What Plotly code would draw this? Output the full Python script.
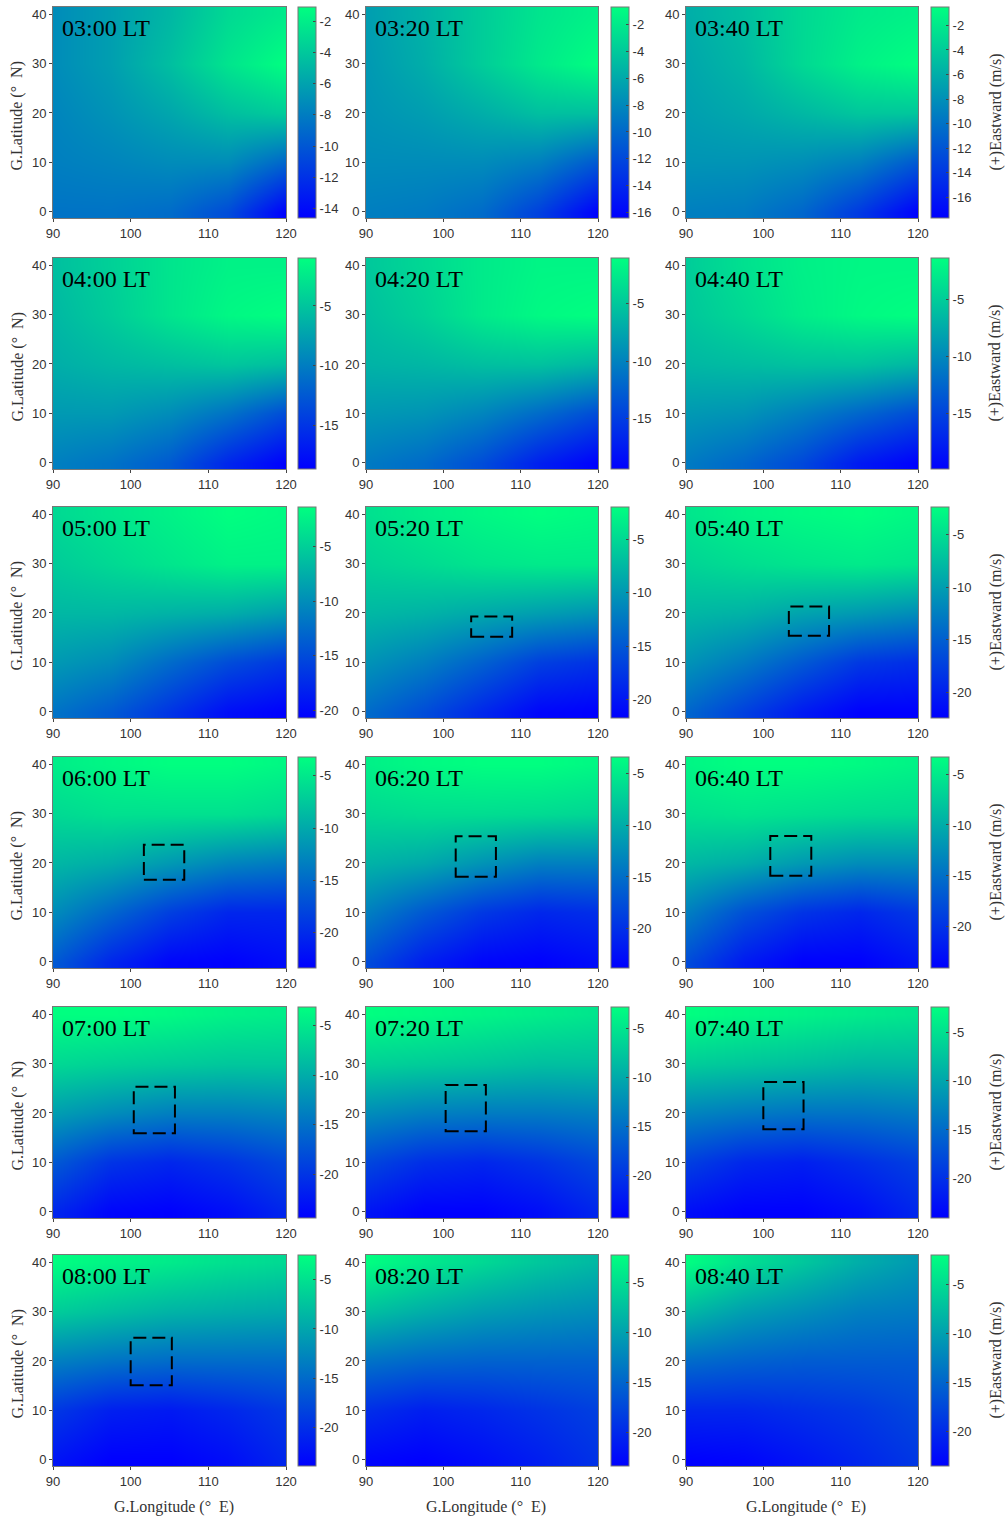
import plotly.graph_objects as go

# Grid of the zonal wind field (rows: latitude, columns: longitude)
LON = [90, 97.5, 105, 112.5, 120]
LAT = [0, 10, 20, 30, 40]

LOCAL_TIMES = ["03:00 LT", "03:20 LT", "03:40 LT",
               "04:00 LT", "04:20 LT", "04:40 LT",
               "05:00 LT", "05:20 LT", "05:40 LT",
               "06:00 LT", "06:20 LT", "06:40 LT",
               "07:00 LT", "07:20 LT", "07:40 LT",
               "08:00 LT", "08:20 LT", "08:40 LT"]

# Eastward wind (m/s), one table per local time
U_0300 = [[-8.5, -8.5, -8.9, -10.6, -14.6],
          [-7.9, -7.6, -7.2, -7.2, -9.2],
          [-7.6, -6.8, -5.8, -4.5, -3.8],
          [-7.2, -6.2, -4.5, -2.5, -1.1],
          [-7.2, -6.2, -4.9, -3.1, -2.2]]
U_0320 = [[-8.6, -8.9, -9.8, -12.5, -16.4],
          [-7.8, -7.8, -7.8, -8.6, -10.9],
          [-7.3, -6.7, -5.7, -4.6, -4.6],
          [-7.0, -5.7, -3.8, -2.0, -0.7],
          [-6.7, -5.4, -3.8, -2.3, -1.5]]
U_0340 = [[-9.1, -9.4, -10.8, -13.9, -17.7],
          [-7.7, -7.7, -8.1, -9.1, -11.7],
          [-7.0, -6.3, -5.3, -4.3, -4.3],
          [-6.5, -5.3, -3.1, -1.4, -0.5],
          [-6.0, -4.8, -3.1, -1.9, -1.4]]
U_0400 = [[-9.8, -10.7, -12.4, -16.0, -18.6],
          [-8.0, -8.0, -8.9, -10.7, -13.3],
          [-6.6, -5.9, -5.4, -4.9, -5.4],
          [-5.9, -4.5, -2.8, -1.5, -1.0],
          [-5.4, -4.2, -2.8, -1.9, -1.9]]
U_0420 = [[-10.6, -11.7, -13.9, -17.2, -19.4],
          [-8.4, -8.7, -9.8, -11.7, -13.9],
          [-6.5, -6.2, -5.6, -5.4, -6.2],
          [-5.6, -4.3, -2.5, -1.4, -1.0],
          [-5.0, -3.8, -2.5, -1.7, -1.7]]
U_0440 = [[-11.0, -12.5, -14.7, -18.1, -19.9],
          [-8.8, -9.2, -10.7, -12.5, -14.4],
          [-6.6, -6.2, -5.8, -5.8, -6.6],
          [-5.5, -4.2, -2.7, -1.8, -1.4],
          [-5.1, -3.6, -2.5, -2.0, -2.0]]
U_0500 = [[-12.0, -13.9, -16.8, -19.7, -20.7],
          [-9.1, -10.1, -12.6, -14.9, -16.5],
          [-6.8, -6.8, -7.2, -7.6, -8.7],
          [-5.3, -4.3, -3.3, -2.4, -2.4],
          [-4.3, -3.3, -2.4, -1.4, -1.8]]
U_0520 = [[-13.4, -15.8, -18.7, -21.3, -21.7],
          [-10.3, -11.9, -14.2, -16.8, -17.8],
          [-7.5, -7.9, -8.7, -9.5, -10.3],
          [-5.5, -4.8, -4.0, -3.6, -3.6],
          [-4.4, -3.4, -2.6, -2.0, -2.4]]
U_0540 = [[-14.4, -17.4, -20.4, -22.4, -22.4],
          [-10.8, -12.8, -15.4, -18.0, -18.8],
          [-8.0, -8.4, -9.6, -10.4, -11.4],
          [-5.8, -5.0, -4.4, -4.0, -4.4],
          [-4.4, -3.4, -2.8, -2.4, -3.0]]
U_0600 = [[-16.3, -20.4, -23.0, -23.4, -22.4],
          [-12.3, -15.3, -18.4, -20.4, -20.4],
          [-8.9, -9.7, -11.3, -12.9, -13.7],
          [-6.2, -5.6, -5.6, -5.6, -6.2],
          [-4.6, -3.8, -3.2, -3.2, -3.8]]
U_0620 = [[-17.7, -21.4, -23.4, -23.8, -22.8],
          [-13.6, -16.7, -19.3, -20.7, -20.1],
          [-9.5, -10.3, -12.0, -13.6, -13.6],
          [-6.5, -6.1, -6.1, -6.3, -6.7],
          [-4.6, -3.8, -3.4, -3.4, -4.0]]
U_0640 = [[-17.9, -22.0, -24.1, -24.1, -22.4],
          [-13.7, -17.5, -19.9, -21.0, -19.5],
          [-9.1, -10.0, -11.6, -12.7, -12.7],
          [-5.8, -5.4, -5.8, -6.2, -6.4],
          [-4.1, -3.3, -3.3, -3.7, -4.3]]
U_0700 = [[-21.2, -24.0, -24.4, -23.3, -21.2],
          [-16.9, -20.1, -21.2, -20.1, -18.4],
          [-11.2, -12.7, -13.8, -13.8, -13.3],
          [-6.3, -6.9, -7.4, -7.8, -7.8],
          [-3.1, -3.1, -3.5, -4.2, -4.6]]
U_0720 = [[-22.7, -24.4, -24.4, -23.3, -21.2],
          [-18.4, -20.5, -21.2, -20.1, -18.4],
          [-12.5, -13.6, -14.0, -14.0, -13.6],
          [-6.7, -7.1, -7.6, -8.2, -8.2],
          [-2.8, -3.2, -3.7, -4.3, -5.0]]
U_0740 = [[-23.0, -24.1, -24.1, -23.0, -20.8],
          [-18.7, -20.8, -21.5, -20.2, -18.7],
          [-12.8, -13.7, -14.3, -14.3, -13.7],
          [-6.7, -7.2, -7.8, -8.5, -8.5],
          [-2.4, -3.0, -3.5, -4.1, -4.6]]
U_0800 = [[-22.2, -23.9, -23.9, -22.8, -20.7],
          [-19.2, -21.3, -21.8, -20.7, -19.2],
          [-13.2, -14.3, -14.9, -14.9, -14.9],
          [-6.8, -7.9, -8.9, -9.4, -9.8],
          [-2.5, -3.4, -4.2, -5.1, -5.7]]
U_0820 = [[-23.0, -23.4, -22.3, -20.9, -19.2],
          [-19.6, -20.9, -20.2, -19.2, -18.1],
          [-13.9, -14.9, -15.3, -15.3, -15.3],
          [-7.5, -9.0, -10.3, -11.1, -11.7],
          [-2.2, -3.9, -5.4, -6.9, -8.1]]
U_0840 = [[-23.5, -23.1, -21.8, -20.3, -18.8],
          [-20.3, -20.3, -19.6, -18.8, -17.5],
          [-14.5, -15.3, -15.8, -15.8, -15.8],
          [-8.0, -10.2, -11.5, -12.8, -13.2],
          [-2.0, -4.6, -6.7, -8.9, -10.6]]

ZONAL_WIND = [U_0300, U_0320, U_0340, U_0400, U_0420, U_0440,
              U_0500, U_0520, U_0540, U_0600, U_0620, U_0640,
              U_0700, U_0720, U_0740, U_0800, U_0820, U_0840]

# Outlined study region for the times where it is marked
BOX_TIMES = ["05:20 LT", "05:40 LT", "06:00 LT", "06:20 LT", "06:40 LT",
             "07:00 LT", "07:20 LT", "07:40 LT", "08:00 LT"]
BOX_LON_W = [103.6, 103.3, 101.7, 101.6, 100.9, 100.4, 100.3, 100.0, 100.0]
BOX_LON_E = [108.9, 108.5, 106.9, 106.8, 106.2, 105.7, 105.5, 105.2, 105.3]
BOX_LAT_S = [15.2, 15.4, 16.6, 17.2, 17.4, 15.9, 16.3, 16.7, 15.1]
BOX_LAT_N = [19.3, 21.3, 23.7, 25.4, 25.5, 25.3, 25.7, 26.3, 24.7]

X_TICKS = [90, 100, 110, 120]
Y_TICKS = [0, 10, 20, 30, 40]
CBAR_STEP_BY_ROW = [2, 5, 5, 5, 5, 5]

X_TITLE = "G.Longitude (°\u00a0\u00a0E)"
Y_TITLE = "G.Latitude (°\u00a0\u00a0N)"
CBAR_TITLE = "(+)Eastward (m/s)"

# ---------------------------------------------------------------- layout
W, H = 1006, 1521
COL_X0 = [53, 366, 686]
COL_X1 = [286, 598, 918]
CBAR_X0 = [298, 611, 931]
CBAR_W = 18
ROW_Y0 = [7, 258, 507, 757, 1007, 1255]
ROW_H = 211

SANS = "Liberation Sans, Arial, sans-serif"
SERIF = "Liberation Serif, Times New Roman, serif"
TICK_FONT = dict(family=SANS, size=13, color="#333333")
WINTER = [[0.0, "rgb(0,0,255)"], [1.0, "rgb(0,255,128)"]]


def fx(px):
    return px / W


def fy(py):
    return 1 - py / H


fig = go.Figure()
layout = dict(width=W, height=H,
              margin=dict(l=0, r=0, t=0, b=0, autoexpand=False),
              paper_bgcolor="white", plot_bgcolor="white", showlegend=False)
annotations = []
shapes = []

for i, (label, z) in enumerate(zip(LOCAL_TIMES, ZONAL_WIND)):
    row, col = divmod(i, 3)
    n = i + 1
    xa = "x" if n == 1 else f"x{n}"
    ya = "y" if n == 1 else f"y{n}"
    top = ROW_Y0[row]
    bottom = top + ROW_H

    zmin = min(min(r) for r in z)
    zmax = max(max(r) for r in z)
    step = CBAR_STEP_BY_ROW[row]
    tickvals = []
    v = -step
    while v >= zmin:
        if v <= zmax:
            tickvals.append(v)
        v -= step

    fig.add_trace(go.Heatmap(
        x=LON, y=LAT, z=z, zsmooth="best", colorscale=WINTER,
        xaxis=xa, yaxis=ya, hoverinfo="skip",
        colorbar=dict(
            x=fx(CBAR_X0[col]), xanchor="left", xpad=0,
            y=fy(top), yanchor="top", ypad=0,
            len=ROW_H, lenmode="pixels",
            thickness=CBAR_W, thicknessmode="pixels",
            outlinewidth=1, outlinecolor="#777777",
            ticks="inside", ticklen=3, tickcolor="#444444",
            tickvals=tickvals, ticktext=[str(t) for t in tickvals],
            tickfont=TICK_FONT,
        ),
    ))

    axis_common = dict(showgrid=False, zeroline=False, showline=True,
                       linecolor="#777777", linewidth=1, mirror=True,
                       ticks="outside", ticklen=3, tickcolor="#444444",
                       tickfont=TICK_FONT, fixedrange=True)
    layout["xaxis" if n == 1 else f"xaxis{n}"] = dict(
        domain=[fx(COL_X0[col]), fx(COL_X1[col])], anchor=ya,
        range=[90, 120], tickvals=X_TICKS, **axis_common)
    layout["yaxis" if n == 1 else f"yaxis{n}"] = dict(
        domain=[fy(bottom), fy(top)], anchor=xa,
        range=[-1.3, 41.5], tickvals=Y_TICKS, **axis_common)

    # local-time tag in the top-left corner of each map
    annotations.append(dict(
        text=label, xref="paper", yref="paper",
        x=fx(COL_X0[col] + 7), y=fy(top + 21),
        xanchor="left", yanchor="middle", showarrow=False,
        font=dict(family=SERIF, size=24, color="black")))

    if col == 0:
        annotations.append(dict(
            text=Y_TITLE, xref="paper", yref="paper",
            x=fx(17), y=fy(top + ROW_H / 2 + 4), textangle=-90,
            xanchor="center", yanchor="middle", showarrow=False,
            font=dict(family=SERIF, size=16, color="#333333")))
    if col == 2:
        annotations.append(dict(
            text=CBAR_TITLE, xref="paper", yref="paper",
            x=fx(995), y=fy(top + ROW_H / 2), textangle=-90,
            xanchor="center", yanchor="middle", showarrow=False,
            font=dict(family=SERIF, size=16, color="#333333")))
    if row == 5:
        annotations.append(dict(
            text=X_TITLE, xref="paper", yref="paper",
            x=fx((COL_X0[col] + COL_X1[col]) / 2 + 4), y=fy(1507),
            xanchor="center", yanchor="middle", showarrow=False,
            font=dict(family=SERIF, size=16, color="#333333")))

    if label in BOX_TIMES:
        k = BOX_TIMES.index(label)
        shapes.append(dict(
            type="rect", xref=xa, yref=ya,
            x0=BOX_LON_W[k], x1=BOX_LON_E[k],
            y0=BOX_LAT_S[k], y1=BOX_LAT_N[k],
            line=dict(color="black", width=2, dash="13px,6px"),
            fillcolor="rgba(0,0,0,0)"))

layout["annotations"] = annotations
layout["shapes"] = shapes
fig.update_layout(**layout)
fig.write_html("out.html")
